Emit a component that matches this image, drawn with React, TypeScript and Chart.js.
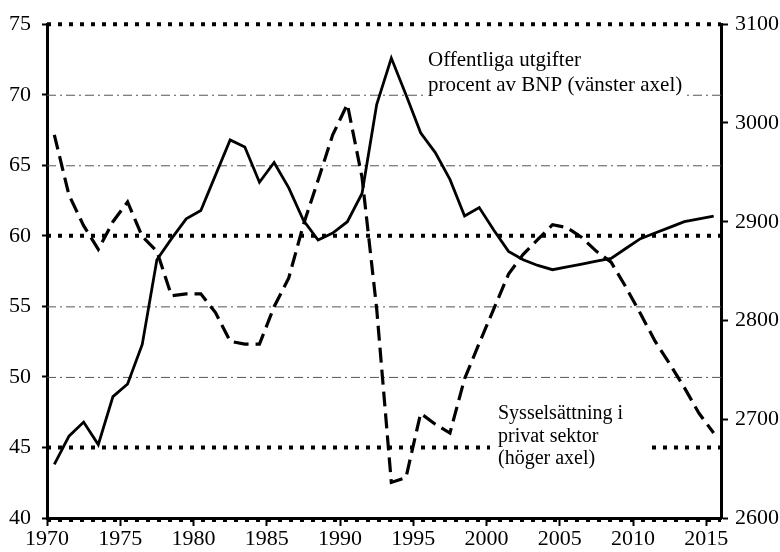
import React, { useEffect, useRef } from "react";
import { Chart, registerables } from "chart.js";

Chart.register(...registerables);

const years = [
  1970, 1971, 1972, 1973, 1974, 1975, 1976, 1977, 1978, 1979,
  1980, 1981, 1982, 1983, 1984, 1985, 1986, 1987, 1988, 1989,
  1990, 1991, 1992, 1993, 1994, 1995, 1996, 1997, 1998, 1999,
  2000, 2001, 2002, 2003, 2004, 2005, 2006, 2007, 2008, 2009,
  2010, 2011, 2012, 2013, 2014, 2015,
];

// Offentliga utgifter, procent av BNP (left axis)
const offentligaUtgifter = [
  43.8, 45.8, 46.8, 45.2, 48.6, 49.5, 52.3, 58.3, 59.8, 61.2,
  61.8, 64.3, 66.8, 66.3, 63.8, 65.2, 63.4, 61.1, 59.7, 60.2,
  61.0, 63.0, 69.3, 72.6, 70.0, 67.3, 65.9, 64.0, 61.4, 62.0,
  60.4, 58.9, 58.3, 57.9, 57.6, 57.8, 58.0, 58.2, 58.4, 59.1,
  59.8, 60.2, 60.6, 61.0, 61.2, 61.4,
];

// Sysselsättning i privat sektor (right axis)
const sysselsattning = [
  2988, 2927, 2896, 2872, 2900, 2920, 2885, 2870, 2825, 2827,
  2827, 2808, 2779, 2776, 2776, 2814, 2843, 2897, 2942, 2988,
  3019, 2945, 2812, 2636, 2641, 2706, 2695, 2686, 2741, 2777,
  2812, 2847, 2867, 2882, 2897, 2894, 2884, 2870, 2859, 2834,
  2807, 2779, 2756, 2732, 2706, 2686,
];

const xTickLabels = [1970, 1975, 1980, 1985, 1990, 1995, 2000, 2005, 2010, 2015];
const leftGridValues = [75, 70, 65, 60, 55, 50, 45, 40];
const heavyGridValues = [75, 60, 45, 40];

const labelTop = ["Offentliga utgifter", "procent av BNP (vänster axel)"];
const labelBottom = ["Sysselsättning i", "privat sektor", "(höger axel)"];

const FONT = "'Liberation Serif', 'Times New Roman', serif";

const decorPlugin = {
  id: "decor",
  beforeDatasetsDraw(chart: any) {
    const { ctx, chartArea, scales } = chart;
    const y = scales.y;
    ctx.save();
    for (const v of leftGridValues) {
      const py = y.getPixelForValue(v);
      ctx.beginPath();
      if (heavyGridValues.includes(v)) {
        ctx.setLineDash([4, 7]);
        ctx.lineWidth = 4;
        ctx.strokeStyle = "#000";
        ctx.moveTo(chartArea.left, v === 40 ? py + 2 : py);
        ctx.lineTo(chartArea.right, v === 40 ? py + 2 : py);
      } else {
        ctx.setLineDash([9, 4, 2, 4]);
        ctx.lineWidth = 1;
        ctx.strokeStyle = "#555";
        ctx.moveTo(chartArea.left, py + 0.5);
        ctx.lineTo(chartArea.right, py + 0.5);
      }
      ctx.stroke();
    }
    ctx.setLineDash([]);

    ctx.fillStyle = "#fff";
    ctx.fillRect(chartArea.left + 378, chartArea.top + 22, 262, 56);
    ctx.fillRect(chartArea.left + 443, chartArea.top + 377, 157, 70);

    ctx.fillStyle = "#000";
    ctx.textBaseline = "alphabetic";
    ctx.textAlign = "left";
    ctx.font = `21px ${FONT}`;
    labelTop.forEach((t, i) => {
      ctx.fillText(t, chartArea.left + 381, chartArea.top + 42 + i * 25);
    });
    ctx.font = `20px ${FONT}`;
    labelBottom.forEach((t, i) => {
      ctx.fillText(t, chartArea.left + 451, chartArea.top + 395 + i * 22.5);
    });
    ctx.restore();
  },
};

export default function App() {
  const ref = useRef<HTMLCanvasElement | null>(null);

  useEffect(() => {
    if (!ref.current) return;
    Chart.defaults.font.family = FONT;
    Chart.defaults.color = "#000";

    const solidData = years.map((yr, i) => ({ x: yr + 0.5, y: offentligaUtgifter[i] }));
    const dashData = years.map((yr, i) => ({ x: yr + 0.5, y: sysselsattning[i] }));

    const chart = new Chart(ref.current, {
      type: "line",
      data: {
        datasets: [
          {
            label: "Offentliga utgifter procent av BNP (vänster axel)",
            data: solidData,
            yAxisID: "y",
            borderColor: "#000",
            borderWidth: 2.8,
            pointRadius: 0,
            tension: 0,
            fill: false,
          },
          {
            label: "Sysselsättning i privat sektor (höger axel)",
            data: dashData,
            yAxisID: "y2",
            borderColor: "#000",
            borderWidth: 3.2,
            borderDash: [15, 7],
            pointRadius: 0,
            tension: 0,
            fill: false,
          },
        ],
      },
      options: {
        animation: false,
        responsive: false,
        maintainAspectRatio: false,
        layout: { padding: { top: 16, left: 0, right: 0, bottom: 0 } },
        plugins: {
          legend: { display: false },
          tooltip: { enabled: false },
        },
        scales: {
          x: {
            type: "linear",
            min: 1970,
            max: 2016,
            afterBuildTicks: (scale: any) => {
              scale.ticks = xTickLabels.map((v) => ({ value: v }));
            },
            afterFit: (scale: any) => {
              scale.height = 34;
            },
            ticks: {
              padding: 0,
              maxRotation: 0,
              autoSkip: false,
              font: { size: 22, family: FONT },
              color: "#000",
              callback: (v: any) => String(v),
            },
            grid: {
              drawOnChartArea: false,
              drawTicks: true,
              tickLength: 8,
              tickWidth: 2,
              tickColor: "#000",
              color: "#000",
            },
            border: { display: true, color: "#000", width: 3 },
          },
          y: {
            type: "linear",
            position: "left",
            min: 40,
            max: 75,
            afterFit: (scale: any) => {
              scale.width = 47;
            },
            ticks: {
              stepSize: 5,
              padding: 11,
              font: { size: 22, family: FONT },
              color: "#000",
              callback: (v: any) => String(v),
            },
            grid: {
              drawOnChartArea: false,
              drawTicks: true,
              tickLength: 5,
              tickWidth: 2,
              tickColor: "#000",
              color: "#000",
            },
            border: { display: true, color: "#000", width: 3 },
          },
          y2: {
            type: "linear",
            position: "right",
            min: 2600,
            max: 3100,
            afterFit: (scale: any) => {
              scale.width = 59;
            },
            ticks: {
              stepSize: 100,
              padding: 7,
              font: { size: 22, family: FONT },
              color: "#000",
              callback: (v: any) => String(v),
            },
            grid: {
              drawOnChartArea: false,
              drawTicks: true,
              tickLength: 7,
              tickWidth: 2,
              tickColor: "#000",
              color: "#000",
            },
            border: { display: true, color: "#000", width: 3 },
          },
        },
      },
      plugins: [decorPlugin],
    });

    return () => chart.destroy();
  }, []);

  return (
    <div style={{ position: "absolute", left: 0, top: 0, width: 780, height: 552, background: "#fff" }}>
      <canvas ref={ref} width={780} height={552} style={{ width: 780, height: 552, display: "block" }} />
    </div>
  );
}
